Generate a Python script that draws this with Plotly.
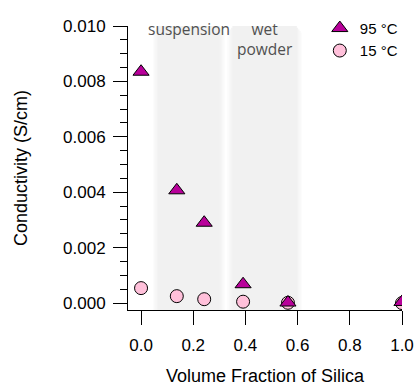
import plotly.graph_objects as go

# ---- data ----
silica_fraction = [0.0, 0.137, 0.242, 0.391, 0.563, 1.0]
cond_95C = [0.00835, 0.00407, 0.0029, 0.00068, 0.00002, 0.00004]
cond_15C = [0.00054, 0.00025, 0.00014, 0.00005, 0.00001, 0.0]
series_names = ["95 °C", "15 °C"]

region_starts = [0.055, 0.340]
region_ends = [0.312, 0.607]
region_labels = ["suspension", "wet<br>powder"]

x_ticks = [0.0, 0.2, 0.4, 0.6, 0.8, 1.0]
x_tick_text = ["0.0", "0.2", "0.4", "0.6", "0.8", "1.0"]
y_ticks = [0.0, 0.002, 0.004, 0.006, 0.008, 0.010]
y_tick_text = ["0.000", "0.002", "0.004", "0.006", "0.008", "0.010"]

FONT = "Liberation Sans, Arial, Helvetica, sans-serif"

fig = go.Figure()

# shaded regions with soft edges (nested rectangles)
shades = ["#fcfcfc", "#f9f9f9", "#f6f6f6", "#f3f3f3", "#f1f1f1"]
dx = 0.005
n = len(shades)
for x0, x1 in zip(region_starts, region_ends):
    for i, c in enumerate(shades):
        fig.add_shape(type="rect", xref="x", yref="paper",
                      x0=x0 - 2 * dx + i * dx, x1=x1 + 2 * dx - i * dx,
                      y0=0, y1=1 - 0.006 * (n - 1 - i),
                      fillcolor=c, line_width=0, layer="below")

for x0, x1, lab in zip(region_starts, region_ends, region_labels):
    fig.add_annotation(x=(x0 + x1) / 2, y=1.035, xref="x", yref="paper",
                       text=lab, showarrow=False, yanchor="top",
                       font=dict(family="Open Sans, sans-serif", size=15.5, color="#505050"))

fig.add_trace(go.Scatter(
    x=silica_fraction, y=cond_15C, mode="markers", name=series_names[1],
    marker=dict(symbol="circle", size=13, color="#ffc0da",
                line=dict(color="black", width=1)),
    legendrank=2))
fig.add_trace(go.Scatter(
    x=silica_fraction, y=cond_95C, mode="markers", name=series_names[0],
    marker=dict(symbol="triangle-up", size=14, color="#b8009a",
                line=dict(color="black", width=1)),
    legendrank=1))

fig.update_layout(
    width=418, height=388,
    margin=dict(l=128, r=16, t=21, b=78),
    plot_bgcolor="white", paper_bgcolor="white",
    font=dict(family=FONT, size=17, color="black"),
    legend=dict(x=0.70, y=1.05, xanchor="left", yanchor="top",
                font=dict(family=FONT, size=15),
                itemwidth=30, tracegroupgap=0,
                bgcolor="rgba(0,0,0,0)"),
    xaxis=dict(range=[-0.05, 1.0], showgrid=False, zeroline=False,
               automargin=False, ticklabeloverflow="allow",
               showline=True, linecolor="black", linewidth=1,
               ticks="outside", ticklen=14, tickcolor="black",
               tickvals=x_ticks, ticktext=x_tick_text,
               tickfont=dict(size=17), ticklabelstandoff=6,
               title=dict(text="Volume Fraction of Silica", font=dict(size=18), standoff=14)),
    yaxis=dict(range=[-0.00025, 0.010], showgrid=False, zeroline=False,
               automargin=False,
               showline=True, linecolor="black", linewidth=1,
               ticks="outside", ticklen=14, tickcolor="black",
               tickvals=y_ticks, ticktext=y_tick_text,
               tickfont=dict(size=17), ticklabelstandoff=4,
               minor=dict(dtick=0.0005, ticks="outside", ticklen=7, tickcolor="black", showgrid=False),
               title=dict(text="Conductivity (S/cm)", font=dict(size=18), standoff=30)),
)

fig.write_html("out.html")
